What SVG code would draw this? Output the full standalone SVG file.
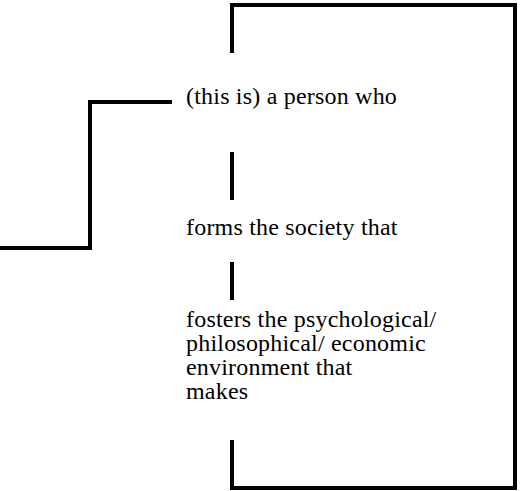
<svg xmlns="http://www.w3.org/2000/svg" width="531" height="491" viewBox="0 0 531 491">
<style>
.ln{fill:none;stroke:#000;stroke-width:4;stroke-linecap:butt;stroke-linejoin:miter}
.t{font-family:"Liberation Serif","Times New Roman",serif;font-size:24px;letter-spacing:0.2px;fill:#000}
</style>
<rect width="531" height="491" fill="#fff"/>
<g id="connectors">
<path class="ln" d="M232,53 V5 H515 V488 H232 V440"/>
<path class="ln" d="M232,152 V200"/>
<path class="ln" d="M232,262 V300"/>
<path class="ln" d="M172,102 H90 V248 H0"/>
</g>
<g id="node1"><text class="t" x="186" y="104">(this is) a person who</text></g>
<g id="node2"><text class="t" x="186" y="235">forms the society that</text></g>
<g id="node3"><text class="t" x="186" y="327">fosters the psychological/<tspan x="186" dy="24">philosophical/ economic</tspan><tspan x="186" dy="24">environment that</tspan><tspan x="186" dy="24">makes</tspan></text></g>
</svg>
